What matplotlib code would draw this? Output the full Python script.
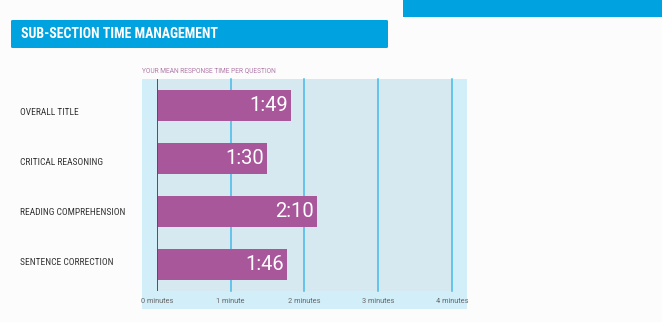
import matplotlib
matplotlib.use("Agg")
from matplotlib import pyplot as plt
from matplotlib import font_manager
from matplotlib.patches import Rectangle, FancyBboxPatch

categories = ["OVERALL TITLE", "CRITICAL REASONING", "READING COMPREHENSION", "SENTENCE CORRECTION"]
seconds = [109, 90, 130, 106]
tick_values = [0, 1, 2, 3, 4]
tick_labels = ["0 minutes", "1 minute", "2 minutes", "3 minutes", "4 minutes"]
title = "SUB-SECTION TIME MANAGEMENT"
subtitle = "YOUR MEAN RESPONSE TIME PER QUESTION"

W, H = 662, 322
blue = "#00a3e0"
purple = "#a8579a"


def narrow_font():
    for name in ["Roboto Condensed", "Liberation Sans Narrow", "Arial Narrow", "DejaVu Sans Condensed"]:
        try:
            font_manager.findfont(name, fallback_to_default=False)
            return name
        except Exception:
            pass
    return "Roboto"


narrow = narrow_font()


def px(x, y):
    # pixel (from top-left) -> figure fraction
    return x / W, 1 - y / H


fig = plt.figure(figsize=(W / 100, H / 100), dpi=100)
fig.patch.set_facecolor("#fcfcfc")

# top right block and title banner
fig.patches.append(Rectangle(px(403, 17), 259 / W, 17 / H, transform=fig.transFigure,
                             facecolor=blue, edgecolor="none"))
fig.patches.append(FancyBboxPatch(px(11, 48), 377 / W, 28 / H, transform=fig.transFigure,
                                  boxstyle="round,pad=0,rounding_size=0.003",
                                  facecolor=blue, edgecolor="none"))
fig.text(*px(21, 34.5), title, color="white", fontsize=10, family=narrow,
         weight="bold", va="center", ha="left")

# outer light blue box
fig.patches.append(Rectangle(px(142, 309), 325 / W, 230 / H, transform=fig.transFigure,
                             facecolor="#d1eef9", edgecolor="none", zorder=-1))
fig.text(*px(142, 71), subtitle, color="#b07aa8", fontsize=4.8, family="Roboto",
         va="center", ha="left")

l, b = px(156.7, 291)
ax = fig.add_axes([l, b, (452 - 156.7) / W, (291 - 79) / H])
ax.set_zorder(2)
ax.set_facecolor("#d6e9f1")
for s in ax.spines.values():
    s.set_visible(False)

ypos = list(range(len(categories)))
widths = [s / 60 for s in seconds]
ax.barh(ypos, widths, height=0.58, color=purple, zorder=3)

for y, w, s in zip(ypos, widths, seconds):
    ax.text(w - 0.04, y, "%d:%02d" % (s // 60, s % 60), color="white", fontsize=14.5,
            family="Roboto", ha="right", va="center", zorder=4)

for x in tick_values[1:]:
    ax.axvline(x, color="#45b9e8", lw=1.1, zorder=2, clip_on=False)
ax.axvline(0, color="#2f5f6f", lw=1.4, zorder=5)

ax.set_xlim(0, 4)
ax.set_ylim(3.5, -0.5)
ax.set_xticks(tick_values)
ax.set_xticklabels(tick_labels, fontsize=5.3, color="#666666", family="Roboto")
ax.tick_params(axis="x", length=0, pad=5)
ax.set_yticks([])

# category labels sit in their own evenly spaced rows
l2, b2 = px(20, 288)
lab = fig.add_axes([l2, b2, 0.01, (288 - 87) / H])
lab.axis("off")
lab.set_ylim(3.5, -0.5)
size = 6.8 if narrow != "Roboto" else 6.2
for y, name in zip(ypos, categories):
    lab.text(0, y, name, fontsize=size, color="#333333", family=narrow,
             ha="left", va="center", transform=lab.get_yaxis_transform())

fig.savefig("out.png", dpi=100, facecolor=fig.get_facecolor())
